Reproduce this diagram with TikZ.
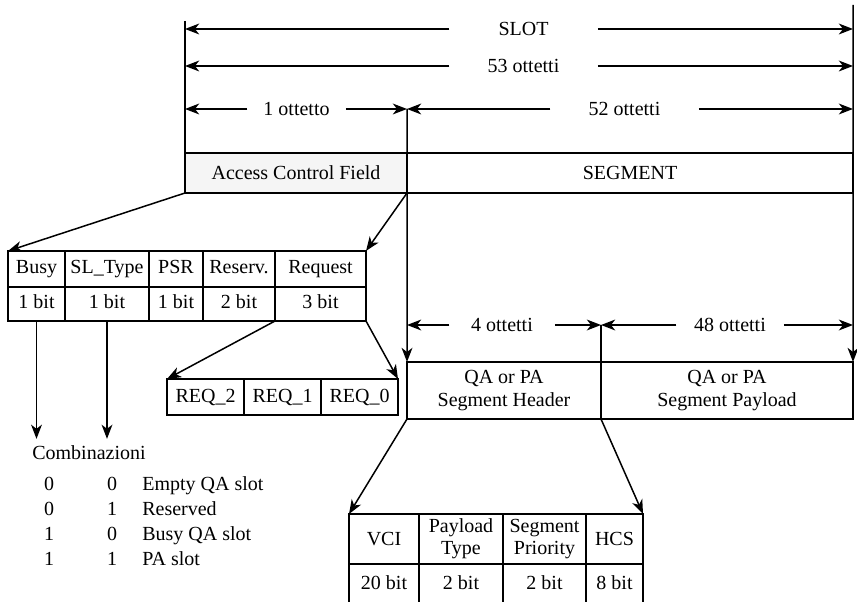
\documentclass[tikz,border=0pt]{standalone}
\usepackage{fontspec}
\setmainfont{Liberation Serif}
\usetikzlibrary{positioning, arrows.meta}

\begin{document}
\begin{tikzpicture}[
    x=0.6pt, y=-0.6pt,
    line width=0.9pt,
    font=\fontsize{12}{14}\selectfont,
    field/.style={
        draw,
        inner sep=0pt,
        outer sep=0pt,
        align=center
    },
    cell/.style={
        field,
        text height=8.5pt,
        text depth=2.5pt
    },
    dim/.style={
        inner sep=0pt
    },
    arrow/.style={
        -{Stealth[length=8.5pt, width=6.5pt, inset=2.5pt]}
    }
]

\useasboundingbox (0,0) rectangle (857,602);

% slot
\node[field, fill=gray!8, minimum width=133.2pt, minimum height=24pt,
    anchor=north west] (acf) at (185,153) {Access Control Field};
\node[field, minimum width=267.6pt, minimum height=24pt,
    right=0pt of acf] (segment) {SEGMENT};

% dimension labels
\node[dim, minimum width=88.2pt] (slot) at (523.5,29) {SLOT};
\node[dim, minimum width=88.2pt] (octets53) at (523.5,66) {53 ottetti};
\node[dim, minimum width=58.2pt] (octet1) at (296.5,109) {1 ottetto};
\node[dim, minimum width=88.2pt] (octets52) at (624.5,109) {52 ottetti};
\node[dim, minimum width=62.4pt] (octets4) at (502,325) {4 ottetti};
\node[dim, minimum width=63.6pt] (octets48) at (730,325) {48 ottetti};

\coordinate (acftop) at (185,21);
\coordinate (slottop) at (853,5);

% access control field
\node[cell, minimum width=34.2pt, minimum height=21.6pt,
    anchor=north west] (busy) at (8,251) {Busy};
\node[cell, minimum width=50.4pt, minimum height=21.6pt,
    right=0pt of busy] (sltype) {SL\_Type};
\node[cell, minimum width=32.4pt, minimum height=21.6pt,
    right=0pt of sltype] (psr) {PSR};
\node[cell, minimum width=43.2pt, minimum height=21.6pt,
    right=0pt of psr] (reserv) {Reserv.};
\node[cell, minimum width=54.6pt, minimum height=21.6pt,
    right=0pt of reserv] (request) {Request};

\node[cell, minimum width=34.2pt, minimum height=20.4pt,
    below=0pt of busy] (busybit) {1 bit};
\node[cell, minimum width=50.4pt, minimum height=20.4pt,
    below=0pt of sltype] (sltypebit) {1 bit};
\node[cell, minimum width=32.4pt, minimum height=20.4pt,
    below=0pt of psr] (psrbit) {1 bit};
\node[cell, minimum width=43.2pt, minimum height=20.4pt,
    below=0pt of reserv] (reservbit) {2 bit};
\node[cell, minimum width=54.6pt, minimum height=20.4pt,
    below=0pt of request] (requestbit) {3 bit};

% request bits
\node[cell, minimum width=46.2pt, minimum height=21.6pt,
    anchor=north west] (req2) at (167,379) {REQ\_2};
\node[cell, minimum width=46.2pt, minimum height=21.6pt,
    right=0pt of req2] (req1) {REQ\_1};
\node[cell, minimum width=46.2pt, minimum height=21.6pt,
    right=0pt of req1] (req0) {REQ\_0};

% segment
\node[field, minimum width=116.4pt, minimum height=34.2pt,
    anchor=north west] (header) at (407,362) {QA or PA\\Segment Header};
\node[field, minimum width=151.2pt, minimum height=34.2pt,
    right=0pt of header] (payload) {QA or PA\\Segment Payload};

% segment header
\node[field, minimum width=42pt, minimum height=30pt,
    anchor=north west] (vci) at (349,514) {VCI};
\node[field, minimum width=50.4pt, minimum height=30pt,
    font=\fontsize{12}{13}\selectfont, right=0pt of vci] (ptype) {Payload\\Type};
\node[field, minimum width=49.8pt, minimum height=30pt,
    font=\fontsize{12}{13}\selectfont, right=0pt of ptype] (prio) {Segment\\Priority};
\node[field, minimum width=34.2pt, minimum height=30pt,
    right=0pt of prio] (hcs) {HCS};

\node[cell, minimum width=42pt, minimum height=24pt,
    below=0pt of vci] (vcibit) {20 bit};
\node[cell, minimum width=50.4pt, minimum height=24pt,
    below=0pt of ptype] (ptypebit) {2 bit};
\node[cell, minimum width=49.8pt, minimum height=24pt,
    below=0pt of prio] (priobit) {2 bit};
\node[cell, minimum width=34.2pt, minimum height=24pt,
    below=0pt of hcs] (hcsbit) {8 bit};

% combinations
\node[anchor=base west] (comb) at (26,459) {Combinazioni};
\foreach \a/\b/\t [count=\i] in {0/0/Empty QA slot, 0/1/Reserved,
        1/0/Busy QA slot, 1/1/PA slot} {
    \node[anchor=base] (busyval\i) at (49,465+25*\i) {\a};
    \node[anchor=base] (typeval\i) at (112,465+25*\i) {\b};
    \node[anchor=base west] (meaning\i) at (136,465+25*\i) {\t};
}

% boundaries
\draw (acftop) -- (acf.north west);
\draw[arrow] (slottop) -- (payload.north east);
\draw[arrow] (acf.north east |- octet1) -- (header.north west);
\draw (header.north east |- octets4) -- (header.north east);

% dimensions
\draw[arrow] (slot.west) -- (acf.north west |- slot);
\draw[arrow] (slot.east) -- (segment.north east |- slot);
\draw[arrow] (octets53.west) -- (acf.north west |- octets53);
\draw[arrow] (octets53.east) -- (segment.north east |- octets53);
\draw[arrow] (octet1.west) -- (acf.north west |- octet1);
\draw[arrow] (octet1.east) -- (acf.north east |- octet1);
\draw[arrow] (octets52.west) -- (acf.north east |- octets52);
\draw[arrow] (octets52.east) -- (segment.north east |- octets52);
\draw[arrow] (octets4.west) -- (header.north west |- octets4);
\draw[arrow] (octets4.east) -- (header.north east |- octets4);
\draw[arrow] (octets48.west) -- (payload.north west |- octets48);
\draw[arrow] (octets48.east) -- (payload.north east |- octets48);

% expansions
\draw[arrow] (acf.south west) -- (busy.north west);
\draw[arrow] (acf.south east) -- (request.north east);
\draw[arrow] (busybit.south) -- (busybit.south |- comb.north);
\draw[arrow] (sltypebit.south) -- (sltypebit.south |- comb.north);
\draw[arrow] (requestbit.south west) -- (req2.north west);
\draw[arrow] (requestbit.south east) -- (req0.north east);
\draw[arrow] (header.south west) -- (vci.north west);
\draw[arrow] (header.south east) -- (hcs.north east);

\end{tikzpicture}
\end{document}
